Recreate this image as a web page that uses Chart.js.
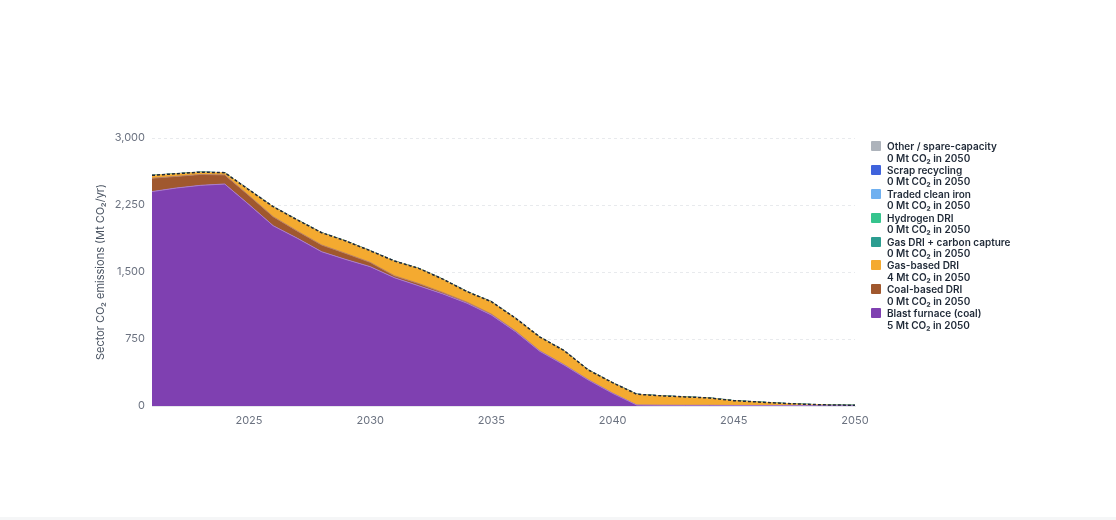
<!DOCTYPE html>
<html>
<head>
<meta charset="utf-8">
<script src="https://cdn.jsdelivr.net/npm/chart.js@4.4.1/dist/chart.umd.min.js"></script>
<style>
html, body { margin: 0; padding: 0; background: #fff; }
body { width: 1116px; height: 520px; position: relative; overflow: hidden; font-family: Inter, sans-serif; }
#chart { position: absolute; left: 0; top: 0; }
#legend { position: absolute; left: 871px; top: 141px; }
.item { display: flex; align-items: flex-start; height: 23.9px; }
.swatch { width: 10px; height: 10px; border-radius: 1px; margin-right: 6px; flex: none; }
.label { font-size: 10px; font-weight: 600; color: #1f2937; line-height: 11.5px; margin-top: 0px; white-space: nowrap; }
#footer { position: absolute; left: 0; top: 517px; width: 1116px; height: 3px; background: #f5f6f7; }
</style>
</head>
<body>
<canvas id="chart" width="1116" height="520"></canvas>
<div id="legend"></div>
<div id="footer"></div>
<script>
const years = [2021, 2022, 2023, 2024, 2025, 2026, 2027, 2028, 2029, 2030,
               2031, 2032, 2033, 2034, 2035, 2036, 2037, 2038, 2039, 2040,
               2041, 2042, 2043, 2044, 2045, 2046, 2047, 2048, 2049, 2050];

// Mt CO2 per year
const blastFurnace = [2400, 2440, 2470, 2485, 2255, 2018, 1877, 1727, 1640, 1560,
                      1436, 1346, 1255, 1150, 1019, 832, 612, 459, 291, 142,
                      10, 8, 7, 7, 6, 6, 6, 5, 5, 5];
const coalDri = [150, 130, 122, 102, 100, 101, 80, 75, 67, 48,
                 22, 25, 15, 12, 10, 8, 5, 4, 3, 2,
                 0, 0, 0, 0, 0, 0, 0, 0, 0, 0];
const gasDri = [32, 30, 26, 25, 65, 112, 125, 138, 140, 130,
                165, 170, 150, 118, 139, 142, 155, 157, 109, 117,
                122, 106, 95, 83, 54, 39, 24, 14, 6, 4];
const gasDriCcs = [0, 0, 0, 0, 0, 0, 0, 0, 0, 0, 0, 0, 0, 0, 0, 0, 0, 0, 0, 0, 0, 0, 0, 0, 0, 0, 0, 0, 0, 0];
const hydrogenDri = [0, 0, 0, 0, 0, 0, 0, 0, 0, 0, 0, 0, 0, 0, 0, 0, 0, 0, 0, 0, 0, 0, 0, 0, 0, 0, 0, 0, 0, 0];
const tradedIron = [0, 0, 0, 0, 0, 0, 0, 0, 0, 0, 0, 0, 0, 0, 0, 0, 0, 0, 0, 0, 0, 0, 0, 0, 0, 0, 0, 0, 0, 0];
const scrap = [0, 0, 0, 0, 0, 0, 0, 0, 0, 0, 0, 0, 0, 0, 0, 0, 0, 0, 0, 0, 0, 0, 0, 0, 0, 0, 0, 0, 0, 0];
const other = [0, 0, 0, 0, 0, 0, 0, 0, 0, 0, 0, 0, 0, 0, 0, 0, 0, 0, 0, 0, 0, 0, 0, 0, 0, 0, 0, 0, 0, 0];

const yTicks = [0, 750, 1500, 2250, 3000];

// bottom of the stack first
const series = [
    { label: 'Blast furnace (coal)', values: blastFurnace, color: '#7f40b1', edge: '#a97cc9' },
    { label: 'Coal-based DRI', values: coalDri, color: '#a0582e', edge: '#b98062' },
    { label: 'Gas-based DRI', values: gasDri, color: '#f4aa30', edge: '#f6bf66' },
    { label: 'Gas DRI + carbon capture', values: gasDriCcs, color: '#2b9d90', edge: '#2b9d90' },
    { label: 'Hydrogen DRI', values: hydrogenDri, color: '#35c48d', edge: '#35c48d' },
    { label: 'Traded clean iron', values: tradedIron, color: '#6fb0f0', edge: '#6fb0f0' },
    { label: 'Scrap recycling', values: scrap, color: '#3f63dc', edge: '#3f63dc' },
    { label: 'Other / spare-capacity', values: other, color: '#adb3bb', edge: '#b8c2cc' }
];

const total = years.map((y, i) => series.reduce((s, d) => s + d.values[i], 0));

const datasets = series.map((s, i) => ({
    label: s.label,
    data: years.map((y, j) => ({ x: y, y: s.values[j] })),
    backgroundColor: s.color,
    borderColor: s.edge,
    borderWidth: 1,
    fill: i === 0 ? 'origin' : '-1',
    pointRadius: 0,
    tension: 0,
    stack: 'routes'
}));
datasets.push({
    label: 'Total',
    data: years.map((y, j) => ({ x: y, y: total[j] })),
    borderColor: '#1e293b',
    borderWidth: 1.5,
    borderDash: [3, 2],
    fill: false,
    pointRadius: 0,
    tension: 0,
    stack: 'total',
    order: -1
});

const tickFont = { family: 'Inter', size: 11 };

new Chart(document.getElementById('chart'), {
    type: 'line',
    data: { datasets: datasets },
    options: {
        responsive: false,
        animation: false,
        layout: { padding: { left: 90, top: 138, right: 261, bottom: 84 } },
        plugins: { legend: { display: false }, tooltip: { enabled: false } },
        scales: {
            x: {
                type: 'linear',
                min: years[0],
                max: years[years.length - 1],
                grid: { display: false, drawTicks: false },
                border: { display: true, color: '#e5e7eb' },
                ticks: {
                    stepSize: 5,
                    includeBounds: false,
                    padding: 8,
                    color: '#6b7280',
                    font: tickFont,
                    callback: v => String(v)
                },
                afterFit: s => { s.height = 30; }
            },
            y: {
                stacked: true,
                min: yTicks[0],
                max: yTicks[yTicks.length - 1],
                grid: { color: '#e8eaed', drawTicks: false },
                border: { display: false, dash: [3, 3] },
                ticks: {
                    stepSize: yTicks[1] - yTicks[0],
                    padding: 7,
                    color: '#6b7280',
                    font: tickFont
                },
                title: {
                    display: true,
                    text: 'Sector CO₂ emissions (Mt CO₂/yr)',
                    color: '#4b5563',
                    font: { family: 'Inter', size: 11 }
                },
                afterFit: s => { s.width = 62; }
            }
        }
    }
});

// legend, top of the stack first
const legend = document.getElementById('legend');
[...series].reverse().forEach(s => {
    const last = Math.round(s.values[s.values.length - 1]);
    const item = document.createElement('div');
    item.className = 'item';
    item.innerHTML = '<div class="swatch" style="background:' + s.color + '"></div>' +
        '<div class="label">' + s.label + '<br>' + last + ' Mt CO₂ in 2050</div>';
    legend.appendChild(item);
});
</script>
</body>
</html>
